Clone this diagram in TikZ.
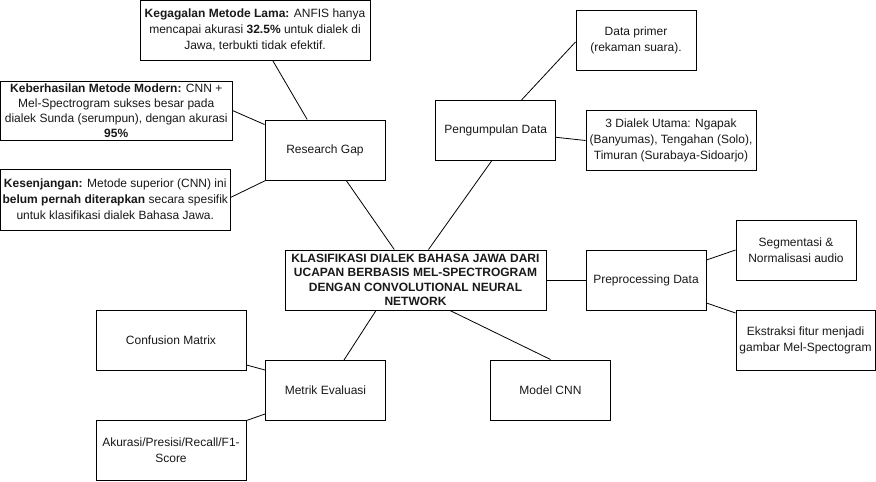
\documentclass[tikz,border=0pt]{standalone}
\usepackage{fontspec}
\setmainfont{Liberation Sans}
\usetikzlibrary{calc}
\begin{document}
\begin{tikzpicture}[x=1pt,y=-1pt,
  box/.style={draw=black,line width=1pt,fill=white,inner sep=0pt,align=center,
    font=\fontsize{12pt}{16pt}\selectfont,text=black!90},
  tight/.style={font=\fontsize{12pt}{15pt}\selectfont},
  tighter/.style={font=\fontsize{12pt}{14.4pt}\selectfont},
  link/.style={draw=black,line width=0.8pt}]
\useasboundingbox (0,0) rectangle (876,482);
\fill[white] (0,0) rectangle (876,482);
% nodes
\node[box,minimum width=230pt,minimum height=59.5pt] (kg) at (255,30.25)
  {\textbf{Kegagalan Metode Lama:} ANFIS hanya\\ mencapai akurasi \textbf{32.5\%} untuk dialek di\\ Jawa, terbukti tidak efektif.};
\node[box,tight,minimum width=231.5pt,minimum height=59pt] (kb) at (116.25,110.5)
  {\textbf{Keberhasilan Metode Modern:} CNN +\\ Mel-Spectrogram sukses besar pada\\ dialek Sunda (serumpun), dengan akurasi\\ \textbf{95\%}};
\node[box,minimum width=229.5pt,minimum height=61pt] (ks) at (115.25,199.5)
  {\textbf{Kesenjangan:} Metode superior (CNN) ini\\ \textbf{belum pernah diterapkan} secara spesifik\\ untuk klasifikasi dialek Bahasa Jawa.};
\node[box,minimum width=120pt,minimum height=60pt] (rg) at (325,150) {Research Gap};
\node[box,tighter,minimum width=261pt,minimum height=60pt] (ctr) at (415.5,280)
  {\bfseries KLASIFIKASI DIALEK BAHASA JAWA DARI\\ \bfseries UCAPAN BERBASIS MEL-SPECTROGRAM\\ \bfseries DENGAN CONVOLUTIONAL NEURAL\\ \bfseries NETWORK};
\node[box,minimum width=120pt,minimum height=60pt] (pd) at (495.7,130.3) {Pengumpulan Data};
\node[box,minimum width=120pt,minimum height=60pt] (dp) at (636,40) {Data primer\\ (rekaman suara).};
\node[box,minimum width=170pt,minimum height=60pt] (dl) at (671,140.5)
  {3 Dialek Utama: Ngapak\\ (Banyumas), Tengahan (Solo),\\ Timuran (Surabaya-Sidoarjo)};
\node[box,minimum width=120pt,minimum height=60pt] (pp) at (646,280) {Preprocessing Data};
\node[box,minimum width=120pt,minimum height=60pt] (sg) at (796,250) {Segmentasi \&\\ Normalisasi audio};
\node[box,minimum width=139pt,minimum height=60pt] (ek) at (805.5,340.5) {Ekstraksi fitur menjadi\\ gambar Mel-Spectogram};
\node[box,minimum width=120pt,minimum height=60pt] (mc) at (550.5,390) {Model CNN};
\node[box,minimum width=120pt,minimum height=60pt] (me) at (325.5,390.5) {Metrik Evaluasi};
\node[box,minimum width=150pt,minimum height=60pt] (cm) at (171,340) {Confusion Matrix};
\node[box,minimum width=150pt,minimum height=60pt] (ak) at (171,450) {Akurasi/Presisi/Recall/F1-\\ Score};
% connectors
\draw[link] (kg) -- (rg);
\draw[link] (kb.east) -- ($(rg.north west)+(0,5)$);
\draw[link] ($(ks.east)+(0,-2)$) -- ($(rg.south west)+(1,0)$);
\draw[link] (rg) -- (ctr);
\draw[link] ($(pd.south)+(-4,0)$) -- ($(ctr.north)+(13,0)$);
\draw[link] ($(pd.north)+(26,0)$) -- ($(dp.west)+(0,2)$);
\draw[link] ($(pd.east)+(0,7)$) -- (dl.west);
\draw[link] (ctr.east) -- (pp.west);
\draw[link] ($(pp.east)+(0,-20)$) -- (sg.west);
\draw[link] ($(pp.east)+(0,23)$) -- ($(ek.north west)+(0,3)$);
\draw[link] ($(ctr.south)+(34.5,0)$) -- (mc.north);
\draw[link] ($(ctr.south)+(-39.5,0)$) -- ($(me.north)+(18.5,0)$);
\draw[link] ($(cm.east)+(0,25)$) -- ($(me.north west)+(0,10)$);
\draw[link] ($(ak.north east)+(0,1)$) -- ($(me.south west)+(0,-7)$);
\end{tikzpicture}
\end{document}
